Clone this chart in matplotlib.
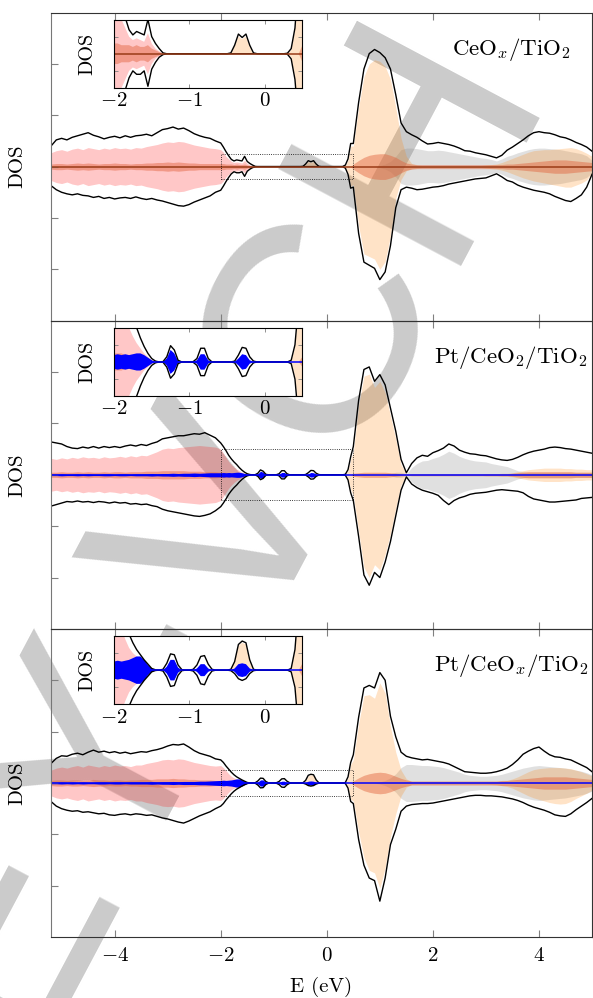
import numpy as np
import matplotlib.pyplot as plt

plt.rcParams['font.family'] = 'serif'
plt.rcParams['font.serif'] = ['cmr10']
plt.rcParams['mathtext.fontset'] = 'cm'
plt.rcParams['axes.formatter.use_mathtext'] = True
plt.rcParams['font.size'] = 15

# energy grid (eV): 0.1 eV in the bands, 0.05 eV in the gap shown by the insets
E_vb = np.round(np.arange(-5.2, -2.05, 0.1), 2)    # 32 points
E_gap = np.round(np.arange(-2.0, 0.475, 0.05), 2)  # 50 points
E_cb = np.round(np.arange(0.5, 5.05, 0.1), 2)      # 46 points
E = np.concatenate([E_vb, E_gap, E_cb])

Z_VB = [0.0] * 32
Z_GAP = [0.0] * 50
Z_CB = [0.0] * 46

titles = [r'CeO$_x$/TiO$_2$', r'Pt/CeO$_2$/TiO$_2$', r'Pt/CeO$_x$/TiO$_2$']
box_half = [0.25, 0.5, 0.25]   # half height of the dotted zoom box

# ---------------- panel 1 : CeOx/TiO2 ----------------
p1_vb_up = [0.40, 0.52, 0.55, 0.52, 0.57, 0.60, 0.63, 0.66, 0.61, 0.58, 0.54, 0.57, 0.59, 0.56, 0.60, 0.57,
            0.60, 0.61, 0.63, 0.60, 0.66, 0.72, 0.74, 0.77, 0.73, 0.75, 0.70, 0.64, 0.60, 0.57, 0.55, 0.50]
p1_vb_dn = [0.37, 0.45, 0.50, 0.53, 0.55, 0.53, 0.56, 0.57, 0.60, 0.58, 0.62, 0.60, 0.63, 0.61, 0.60, 0.62,
            0.59, 0.62, 0.64, 0.62, 0.65, 0.67, 0.70, 0.73, 0.76, 0.77, 0.74, 0.69, 0.65, 0.61, 0.57, 0.50]
p1_vb_pink = [0.27, 0.31, 0.33, 0.30, 0.34, 0.36, 0.33, 0.37, 0.35, 0.33, 0.36, 0.34, 0.37, 0.35, 0.36, 0.34,
              0.37, 0.36, 0.39, 0.41, 0.43, 0.46, 0.48, 0.47, 0.49, 0.48, 0.45, 0.42, 0.40, 0.38, 0.36, 0.35]
p1_vb_salmon = [0.05, 0.06, 0.06, 0.05, 0.06, 0.07, 0.06, 0.07, 0.06, 0.05, 0.06, 0.06, 0.07, 0.06, 0.06, 0.05,
                0.06, 0.06, 0.07, 0.07, 0.08, 0.08, 0.09, 0.08, 0.09, 0.08, 0.07, 0.07, 0.06, 0.06, 0.06, 0.06]
p1_gap_up = ([0.46, 0.38, 0.29, 0.21, 0.14, 0.11, 0.13, 0.12, 0.11, 0.20, 0.10, 0.06, 0.03, 0.005]
             + [0.0] * 17 + [0.005, 0.05, 0.115, 0.095, 0.115, 0.05, 0.005] + [0.0] * 8
             + [0.003, 0.03, 0.15, 0.45])
p1_gap_dn = ([0.46, 0.38, 0.29, 0.21, 0.14, 0.10, 0.12, 0.12, 0.10, 0.19, 0.09, 0.05, 0.02, 0.005]
             + [0.0] * 32 + [0.003, 0.03, 0.15, 0.42])
p1_gap_pink = [0.33, 0.28, 0.20, 0.15, 0.10, 0.08, 0.09, 0.08, 0.07, 0.12, 0.06, 0.03, 0.015] + [0.0] * 37
p1_gap_salmon = [0.06, 0.06, 0.05, 0.05, 0.05, 0.04, 0.05, 0.04, 0.04, 0.05, 0.03, 0.02, 0.01] + [0.0] * 37
p1_gap_or_up = [0.0] * 32 + [0.045, 0.10, 0.085, 0.10, 0.04] + [0.0] * 9 + [0.0, 0.02, 0.13, 0.40]
p1_gap_or_dn = [0.0] * 46 + [0.0, 0.02, 0.13, 0.38]
p1_cb_up = [0.45, 1.25, 1.90, 2.20, 2.28, 2.22, 2.12, 1.90, 1.40, 0.85, 0.68, 0.62, 0.57, 0.50, 0.44, 0.45,
            0.47, 0.45, 0.43, 0.40, 0.36, 0.31, 0.30, 0.27, 0.25, 0.23, 0.20, 0.17, 0.22, 0.32, 0.38, 0.45,
            0.52, 0.60, 0.66, 0.68, 0.66, 0.65, 0.62, 0.58, 0.56, 0.52, 0.47, 0.43, 0.38, 0.30]
p1_cb_dn = [0.40, 1.30, 1.86, 1.92, 1.98, 2.20, 2.05, 1.54, 0.80, 0.45, 0.40, 0.42, 0.45, 0.44, 0.42, 0.40,
            0.39, 0.37, 0.34, 0.32, 0.30, 0.28, 0.26, 0.24, 0.23, 0.22, 0.18, 0.14, 0.20, 0.27, 0.30, 0.36,
            0.40, 0.43, 0.46, 0.48, 0.50, 0.53, 0.58, 0.62, 0.66, 0.68, 0.62, 0.55, 0.40, 0.15]
p1_cb_or_up = [0.40, 1.15, 1.75, 2.00, 2.08, 2.05, 1.95, 1.70, 1.15, 0.55, 0.20, 0.06, 0.03, 0.02, 0.02, 0.02,
               0.02, 0.02, 0.02, 0.02, 0.02, 0.02, 0.02, 0.02, 0.02, 0.03, 0.04, 0.05, 0.08, 0.12, 0.16, 0.20,
               0.24, 0.28, 0.31, 0.32, 0.33, 0.33, 0.34, 0.35, 0.36, 0.37, 0.35, 0.31, 0.26, 0.20]
p1_cb_or_dn = [0.35, 1.15, 1.70, 1.75, 1.80, 2.00, 1.85, 1.35, 0.62, 0.25, 0.08, 0.04, 0.03, 0.02, 0.02, 0.02,
               0.02, 0.02, 0.02, 0.02, 0.02, 0.02, 0.02, 0.02, 0.02, 0.03, 0.04, 0.05, 0.07, 0.10, 0.14, 0.18,
               0.22, 0.25, 0.28, 0.30, 0.32, 0.34, 0.36, 0.38, 0.40, 0.40, 0.36, 0.32, 0.26, 0.12]
p1_cb_gray = [0.0, 0.0, 0.0, 0.0, 0.0, 0.02, 0.05, 0.10, 0.20, 0.33, 0.36, 0.36, 0.35, 0.33, 0.31, 0.31,
              0.32, 0.31, 0.29, 0.27, 0.25, 0.23, 0.21, 0.19, 0.17, 0.16, 0.14, 0.11, 0.15, 0.20, 0.23, 0.27,
              0.30, 0.33, 0.35, 0.36, 0.36, 0.35, 0.34, 0.33, 0.31, 0.29, 0.27, 0.25, 0.21, 0.12]
p1_cb_salmon = [0.05, 0.12, 0.18, 0.22, 0.24, 0.25, 0.25, 0.22, 0.18, 0.12, 0.07, 0.05, 0.04, 0.04, 0.04, 0.04,
                0.04, 0.04, 0.04, 0.04, 0.04, 0.04, 0.04, 0.04, 0.04, 0.04, 0.04, 0.04, 0.04, 0.05, 0.05, 0.06,
                0.07, 0.08, 0.09, 0.10, 0.11, 0.12, 0.13, 0.13, 0.13, 0.12, 0.11, 0.10, 0.09, 0.08]

# ---------------- panel 2 : Pt/CeO2/TiO2 ----------------
p2_vb_up = [0.64, 0.62, 0.60, 0.55, 0.52, 0.51, 0.54, 0.52, 0.55, 0.52, 0.55, 0.53, 0.55, 0.53, 0.56, 0.58,
            0.56, 0.59, 0.57, 0.61, 0.64, 0.70, 0.72, 0.74, 0.76, 0.76, 0.78, 0.80, 0.79, 0.82, 0.77, 0.72]
p2_vb_dn = [0.61, 0.58, 0.55, 0.52, 0.53, 0.51, 0.53, 0.52, 0.54, 0.52, 0.53, 0.55, 0.53, 0.55, 0.54, 0.57,
            0.56, 0.58, 0.57, 0.60, 0.62, 0.67, 0.70, 0.72, 0.74, 0.76, 0.78, 0.80, 0.81, 0.79, 0.76, 0.70]
p2_vb_pink = [0.32, 0.30, 0.33, 0.31, 0.34, 0.32, 0.35, 0.33, 0.34, 0.32, 0.35, 0.33, 0.34, 0.36, 0.34, 0.37,
              0.35, 0.38, 0.37, 0.41, 0.45, 0.50, 0.52, 0.51, 0.53, 0.54, 0.55, 0.56, 0.57, 0.56, 0.55, 0.54]
p2_vb_salmon = [0.05, 0.05, 0.06, 0.05, 0.05, 0.06, 0.05, 0.06, 0.05, 0.05, 0.06, 0.05, 0.06, 0.06, 0.05, 0.06,
                0.06, 0.06, 0.07, 0.07, 0.07, 0.08, 0.08, 0.08, 0.08, 0.08, 0.07, 0.07, 0.07, 0.06, 0.06, 0.06]
p2_vb_blue = [0.015, 0.015, 0.02, 0.015, 0.015, 0.02, 0.015, 0.02, 0.015, 0.015, 0.02, 0.02, 0.015, 0.02, 0.02,
              0.015, 0.02, 0.02, 0.02, 0.025, 0.02, 0.025, 0.025, 0.03, 0.025, 0.03, 0.03, 0.035, 0.03, 0.035,
              0.04, 0.04]
p2_gap_up = ([0.62, 0.55, 0.47, 0.38, 0.31, 0.25, 0.20, 0.14, 0.09, 0.05, 0.02, 0.005, 0.0, 0.002, 0.03, 0.095,
              0.07, 0.01, 0.0, 0.0, 0.0, 0.002, 0.02, 0.08, 0.08, 0.02] + [0.0] * 6
             + [0.005, 0.04, 0.085, 0.08, 0.03, 0.005] + [0.0] * 9 + [0.01, 0.10, 0.35])
p2_gap_dn = p2_gap_up
p2_gap_pink = [0.50, 0.42, 0.34, 0.26, 0.20, 0.15, 0.11, 0.08, 0.05, 0.03, 0.01] + [0.0] * 39
p2_gap_salmon = [0.05, 0.05, 0.05, 0.04, 0.04, 0.04, 0.03, 0.03, 0.02, 0.02, 0.01] + [0.0] * 39
p2_gap_blue = ([0.04, 0.045, 0.04, 0.045, 0.04, 0.045, 0.05, 0.05, 0.04, 0.025, 0.01, 0.0, 0.0, 0.0,
                0.02, 0.07, 0.05, 0.005, 0.0, 0.0, 0.0, 0.0, 0.01, 0.045, 0.045, 0.01] + [0.0] * 7
               + [0.02, 0.045, 0.04, 0.01, 0.0] + [0.0] * 12)
p2_gap_or_up = [0.0] * 48 + [0.08, 0.30]
p2_gap_or_dn = [0.0] * 48 + [0.08, 0.28]
p2_cb_up = [0.55, 1.45, 2.05, 2.10, 1.82, 1.95, 1.75, 1.30, 0.85, 0.30, 0.04, 0.22, 0.33, 0.38, 0.36, 0.43,
            0.47, 0.52, 0.60, 0.56, 0.48, 0.44, 0.41, 0.40, 0.38, 0.37, 0.34, 0.31, 0.29, 0.28, 0.30, 0.34,
            0.39, 0.43, 0.46, 0.48, 0.50, 0.53, 0.54, 0.53, 0.51, 0.50, 0.48, 0.46, 0.44, 0.42]
p2_cb_dn = [0.50, 1.20, 1.95, 2.15, 1.90, 2.00, 1.70, 1.30, 0.80, 0.30, 0.04, 0.18, 0.25, 0.30, 0.33, 0.36,
            0.40, 0.50, 0.58, 0.50, 0.45, 0.42, 0.38, 0.36, 0.35, 0.34, 0.32, 0.30, 0.29, 0.30, 0.31, 0.32,
            0.35, 0.42, 0.47, 0.49, 0.51, 0.53, 0.53, 0.52, 0.51, 0.50, 0.49, 0.46, 0.45, 0.44]
p2_cb_or_up = [0.45, 1.35, 1.92, 1.96, 1.70, 1.82, 1.60, 1.15, 0.70, 0.20, 0.02, 0.01, 0.01, 0.01, 0.01, 0.01,
               0.01, 0.01, 0.01, 0.01, 0.01, 0.01, 0.01, 0.01, 0.01, 0.02, 0.02, 0.02, 0.03, 0.03, 0.04, 0.06,
               0.08, 0.10, 0.11, 0.12, 0.13, 0.13, 0.13, 0.13, 0.12, 0.12, 0.11, 0.11, 0.10, 0.10]
p2_cb_or_dn = [0.40, 1.10, 1.80, 2.00, 1.75, 1.85, 1.55, 1.15, 0.65, 0.20, 0.02, 0.01, 0.01, 0.01, 0.01, 0.01,
               0.01, 0.01, 0.01, 0.01, 0.01, 0.01, 0.01, 0.01, 0.01, 0.02, 0.02, 0.02, 0.03, 0.03, 0.04, 0.06,
               0.08, 0.10, 0.11, 0.12, 0.13, 0.13, 0.13, 0.13, 0.12, 0.12, 0.11, 0.11, 0.10, 0.10]
p2_cb_gray = [0.0, 0.0, 0.0, 0.0, 0.0, 0.0, 0.0, 0.02, 0.05, 0.05, 0.02, 0.14, 0.22, 0.27, 0.28, 0.32,
              0.35, 0.40, 0.46, 0.42, 0.36, 0.32, 0.29, 0.27, 0.26, 0.25, 0.22, 0.20, 0.18, 0.16, 0.12, 0.08,
              0.06, 0.05, 0.05, 0.05, 0.05, 0.05, 0.05, 0.05, 0.05, 0.05, 0.05, 0.05, 0.05, 0.05]
p2_cb_salmon = [0.03, 0.04, 0.05, 0.05, 0.05, 0.05, 0.05, 0.04, 0.03, 0.02, 0.01, 0.02, 0.02, 0.02, 0.02, 0.02,
                0.02, 0.02, 0.02, 0.02, 0.02, 0.02, 0.02, 0.02, 0.02, 0.02, 0.02, 0.02, 0.02, 0.02, 0.03, 0.04,
                0.05, 0.06, 0.06, 0.06, 0.06, 0.06, 0.06, 0.06, 0.06, 0.06, 0.05, 0.05, 0.05, 0.05]

# ---------------- panel 3 : Pt/CeOx/TiO2 ----------------
p3_vb_up = [0.38, 0.48, 0.53, 0.52, 0.56, 0.58, 0.55, 0.60, 0.64, 0.60, 0.62, 0.59, 0.61, 0.58, 0.60, 0.57,
            0.59, 0.61, 0.60, 0.63, 0.65, 0.68, 0.72, 0.75, 0.74, 0.76, 0.70, 0.63, 0.58, 0.55, 0.52, 0.47]
p3_vb_dn = [0.36, 0.45, 0.50, 0.53, 0.55, 0.54, 0.57, 0.56, 0.58, 0.60, 0.59, 0.62, 0.63, 0.61, 0.60, 0.62,
            0.60, 0.61, 0.63, 0.62, 0.65, 0.68, 0.70, 0.73, 0.76, 0.78, 0.74, 0.69, 0.64, 0.60, 0.56, 0.50]
p3_vb_pink = [0.25, 0.29, 0.31, 0.29, 0.32, 0.34, 0.31, 0.35, 0.33, 0.31, 0.34, 0.32, 0.35, 0.33, 0.34, 0.32,
              0.35, 0.35, 0.38, 0.40, 0.42, 0.45, 0.46, 0.45, 0.47, 0.46, 0.43, 0.40, 0.38, 0.36, 0.34, 0.33]
p3_vb_salmon = [0.05, 0.06, 0.06, 0.05, 0.06, 0.06, 0.05, 0.06, 0.07, 0.06, 0.06, 0.05, 0.06, 0.06, 0.05, 0.06,
                0.06, 0.07, 0.07, 0.07, 0.08, 0.08, 0.08, 0.09, 0.08, 0.08, 0.07, 0.07, 0.06, 0.06, 0.06, 0.05]
p3_vb_blue = [0.015, 0.015, 0.02, 0.015, 0.02, 0.015, 0.02, 0.015, 0.015, 0.02, 0.02, 0.015, 0.02, 0.02, 0.015,
              0.02, 0.02, 0.02, 0.02, 0.025, 0.02, 0.025, 0.025, 0.03, 0.025, 0.03, 0.03, 0.03, 0.035, 0.035,
              0.04, 0.045]
p3_gap_up = ([0.45, 0.40, 0.33, 0.27, 0.21, 0.16, 0.12, 0.09, 0.06, 0.035, 0.01, 0.002, 0.0, 0.005, 0.04, 0.095,
              0.09, 0.03, 0.003, 0.0, 0.0, 0.005, 0.03, 0.08, 0.085, 0.035, 0.005] + [0.0] * 4
             + [0.005, 0.05, 0.15, 0.17, 0.16, 0.06, 0.005] + [0.0] * 9 + [0.01, 0.12, 0.40])
p3_gap_dn = ([0.45, 0.40, 0.33, 0.27, 0.21, 0.16, 0.12, 0.09, 0.06, 0.035, 0.01, 0.002, 0.0, 0.005, 0.04, 0.095,
              0.09, 0.03, 0.003, 0.0, 0.0, 0.005, 0.03, 0.08, 0.085, 0.035, 0.005] + [0.0] * 4
             + [0.003, 0.02, 0.05, 0.06, 0.05, 0.02, 0.003] + [0.0] * 9 + [0.01, 0.10, 0.36])
p3_gap_pink = [0.34, 0.30, 0.24, 0.18, 0.13, 0.10, 0.08, 0.06, 0.04, 0.02, 0.005] + [0.0] * 39
p3_gap_salmon = [0.05, 0.05, 0.05, 0.04, 0.04, 0.04, 0.03, 0.03, 0.02, 0.02, 0.01] + [0.0] * 39
p3_gap_blue = ([0.05, 0.055, 0.05, 0.055, 0.06, 0.07, 0.08, 0.08, 0.06, 0.03, 0.01, 0.0, 0.0, 0.0,
                0.02, 0.06, 0.06, 0.015, 0.0, 0.0, 0.0, 0.0, 0.01, 0.035, 0.035, 0.01] + [0.0] * 6
               + [0.01, 0.035, 0.04, 0.035, 0.01, 0.0] + [0.0] * 12)
p3_gap_or_up = [0.0] * 31 + [0.003, 0.045, 0.14, 0.16, 0.15, 0.05, 0.003] + [0.0] * 9 + [0.005, 0.10, 0.36]
p3_gap_or_dn = [0.0] * 47 + [0.005, 0.08, 0.32]
p3_cb_up = [0.55, 1.28, 1.85, 1.90, 1.85, 2.15, 2.00, 1.30, 0.90, 0.60, 0.52, 0.49, 0.47, 0.45, 0.46, 0.44,
            0.42, 0.40, 0.37, 0.32, 0.27, 0.22, 0.21, 0.20, 0.19, 0.19, 0.20, 0.22, 0.25, 0.29, 0.36, 0.45,
            0.56, 0.62, 0.67, 0.70, 0.62, 0.55, 0.51, 0.50, 0.47, 0.45, 0.40, 0.35, 0.30, 0.22]
p3_cb_dn = [0.40, 1.10, 1.60, 1.85, 1.90, 2.30, 1.85, 1.20, 0.90, 0.55, 0.45, 0.42, 0.41, 0.40, 0.40, 0.39,
            0.37, 0.35, 0.33, 0.31, 0.29, 0.27, 0.25, 0.24, 0.24, 0.25, 0.25, 0.26, 0.27, 0.29, 0.31, 0.34,
            0.38, 0.43, 0.47, 0.50, 0.53, 0.57, 0.62, 0.64, 0.65, 0.60, 0.52, 0.45, 0.38, 0.30]
p3_cb_or_up = [0.45, 1.15, 1.70, 1.72, 1.65, 1.95, 1.75, 1.10, 0.60, 0.25, 0.08, 0.03, 0.02, 0.02, 0.02, 0.02,
               0.02, 0.02, 0.02, 0.02, 0.02, 0.02, 0.02, 0.02, 0.02, 0.02, 0.03, 0.03, 0.04, 0.05, 0.08, 0.12,
               0.17, 0.22, 0.26, 0.28, 0.29, 0.30, 0.30, 0.30, 0.29, 0.28, 0.25, 0.22, 0.18, 0.14]
p3_cb_or_dn = [0.35, 0.95, 1.45, 1.70, 1.75, 2.05, 1.65, 1.05, 0.60, 0.25, 0.08, 0.03, 0.02, 0.02, 0.02, 0.02,
               0.02, 0.02, 0.02, 0.02, 0.02, 0.02, 0.02, 0.02, 0.02, 0.02, 0.03, 0.04, 0.05, 0.07, 0.10, 0.15,
               0.20, 0.25, 0.29, 0.32, 0.35, 0.38, 0.40, 0.41, 0.40, 0.36, 0.30, 0.25, 0.20, 0.14]
p3_cb_gray = [0.0, 0.0, 0.0, 0.0, 0.0, 0.02, 0.05, 0.10, 0.18, 0.30, 0.36, 0.36, 0.35, 0.34, 0.34, 0.33,
              0.32, 0.30, 0.27, 0.24, 0.21, 0.17, 0.15, 0.14, 0.13, 0.13, 0.14, 0.15, 0.17, 0.20, 0.23, 0.26,
              0.29, 0.31, 0.33, 0.34, 0.33, 0.32, 0.31, 0.30, 0.29, 0.27, 0.25, 0.23, 0.20, 0.16]
p3_cb_salmon = [0.04, 0.10, 0.15, 0.18, 0.20, 0.21, 0.20, 0.17, 0.13, 0.09, 0.06, 0.04, 0.04, 0.04, 0.04, 0.04,
                0.04, 0.04, 0.04, 0.04, 0.04, 0.04, 0.04, 0.04, 0.04, 0.04, 0.04, 0.04, 0.05, 0.05, 0.06, 0.07,
                0.08, 0.09, 0.10, 0.11, 0.12, 0.12, 0.12, 0.12, 0.12, 0.11, 0.10, 0.09, 0.08, 0.07]

panels = [
    dict(up=p1_vb_up + p1_gap_up + p1_cb_up, dn=p1_vb_dn + p1_gap_dn + p1_cb_dn,
         pink=p1_vb_pink + p1_gap_pink + Z_CB, salmon=p1_vb_salmon + p1_gap_salmon + p1_cb_salmon,
         or_up=Z_VB + p1_gap_or_up + p1_cb_or_up, or_dn=Z_VB + p1_gap_or_dn + p1_cb_or_dn,
         gray=Z_VB + Z_GAP + p1_cb_gray, blue=None),
    dict(up=p2_vb_up + p2_gap_up + p2_cb_up, dn=p2_vb_dn + p2_gap_dn + p2_cb_dn,
         pink=p2_vb_pink + p2_gap_pink + Z_CB, salmon=p2_vb_salmon + p2_gap_salmon + p2_cb_salmon,
         or_up=Z_VB + p2_gap_or_up + p2_cb_or_up, or_dn=Z_VB + p2_gap_or_dn + p2_cb_or_dn,
         gray=Z_VB + Z_GAP + p2_cb_gray, blue=p2_vb_blue + p2_gap_blue + Z_CB),
    dict(up=p3_vb_up + p3_gap_up + p3_cb_up, dn=p3_vb_dn + p3_gap_dn + p3_cb_dn,
         pink=p3_vb_pink + p3_gap_pink + Z_CB, salmon=p3_vb_salmon + p3_gap_salmon + p3_cb_salmon,
         or_up=Z_VB + p3_gap_or_up + p3_cb_or_up, or_dn=Z_VB + p3_gap_or_dn + p3_cb_or_dn,
         gray=Z_VB + Z_GAP + p3_cb_gray, blue=p3_vb_blue + p3_gap_blue + Z_CB),
]
for d in panels:
    for k, v in d.items():
        if v is not None:
            assert len(v) == len(E), (k, len(v))


def draw_dos(ax, d):
    arr = {k: np.array(v) for k, v in d.items() if v is not None}
    ax.fill_between(E, -arr['gray'], arr['gray'], color='gray', alpha=0.24, lw=0)
    ax.fill_between(E, -arr['pink'], arr['pink'], color='red', alpha=0.22, lw=0)
    ax.fill_between(E, -arr['or_dn'], arr['or_up'], color=(1.0, 0.5, 0.0), alpha=0.22, lw=0)
    ax.fill_between(E, -arr['salmon'], arr['salmon'], color='#e0603a', alpha=0.45, lw=0)
    if 'blue' in arr:
        ax.fill_between(E, -arr['blue'], arr['blue'], color='blue', lw=0)
    ax.plot(E, arr['up'], color='black', lw=1.0)
    ax.plot(E, -arr['dn'], color='black', lw=1.0)
    ax.axhline(0, color='blue' if 'blue' in arr else '#9a3b17', lw=1.1)


fig = plt.figure(figsize=(5.93, 9.98), dpi=100)
fig.patch.set_facecolor('white')

# publisher watermark, behind the (transparent) panels, hidden by the opaque insets
fig.text(0.931, 0.906, 'WILEY-VCH', rotation=62, rotation_mode='anchor', ha='right', va='baseline',
         fontsize=216, color='#cbcbcb', family='Liberation Sans', zorder=-1)

left, width = 51 / 593, 541 / 593
top_px, h_px = 12.5, 308.2
for i, d in enumerate(panels):
    y0 = 1 - (top_px + (i + 1) * h_px) / 998
    ax = fig.add_axes([left, y0, width, h_px / 998])
    ax.set_facecolor('none')
    draw_dos(ax, d)
    h = box_half[i]
    ax.plot([-2, 0.5, 0.5, -2, -2], [-h, -h, h, h, -h], ls=':', color='black', lw=0.6)
    ax.set_xlim(-5.2, 5.0)
    ax.set_ylim(-3, 3)
    ax.set_xticks([-4, -2, 0, 2, 4])
    ax.set_yticks([-2, -1, 0, 1, 2])
    ax.set_yticklabels([])
    ax.tick_params(direction='in', length=5, width=0.8, color='#808080', top=True, right=False)
    ax.tick_params(axis='x', pad=7)
    if i < 2:
        ax.set_xticklabels([])
    else:
        ax.set_xlabel('E (eV)', labelpad=9)
    ax.set_ylabel('DOS', labelpad=14)
    for s in ax.spines.values():
        s.set_color('#333333')
    ax.spines['left'].set_color('#777777')
    ax.text(0.85, 0.862, titles[i], transform=ax.transAxes, ha='center', va='baseline', fontsize=16.5)

    # inset zooming into the gap states
    ins_top = top_px + i * h_px + 7
    axi = fig.add_axes([114 / 593, 1 - (ins_top + 68.5) / 998, 188.5 / 593, 68.5 / 998])
    axi.set_facecolor('white')
    draw_dos(axi, d)
    axi.set_xlim(-2, 0.5)
    axi.set_ylim(-0.2, 0.2)
    axi.set_xticks([-2, -1, 0])
    axi.set_yticks([-0.1, 0.1])
    axi.set_yticklabels([])
    axi.tick_params(direction='in', length=3, width=0.6, color='#808080', top=True, right=True, pad=3)
    axi.set_ylabel('DOS', fontsize=14.5, labelpad=10)
    for s in axi.spines.values():
        s.set_linewidth(0.8)

fig.savefig('out.png', dpi=100)
